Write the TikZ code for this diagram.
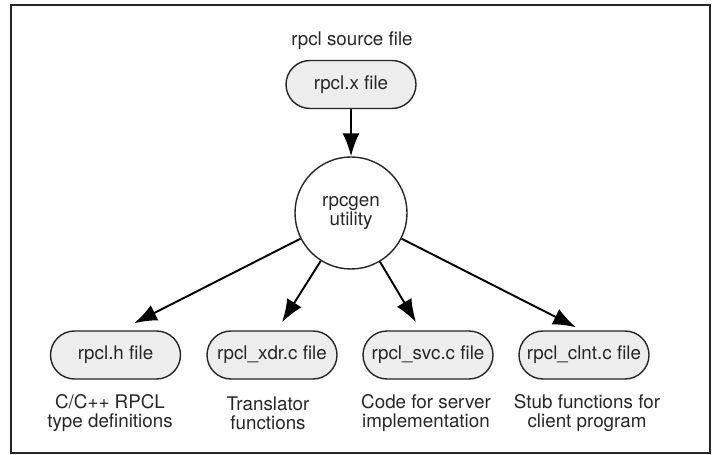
\documentclass[tikz,border=0pt]{standalone}
\usepackage{fontspec}
\setmainfont{TeX Gyre Heros}
\usetikzlibrary{arrows.meta,positioning,calc}

\tikzset{
	pillbox/.style={draw=black!85, line width=0.8pt, fill=gray!14, rounded corners=0.48cm,
		minimum width=2.6cm, minimum height=0.96cm, inner sep=0pt},
	genbox/.style={draw=black!85, line width=0.8pt, circle, minimum size=2.24cm, inner sep=0pt, align=center},
	description/.style={align=center, inner sep=0pt},
	flow/.style={line width=1.1pt, -{Latex[length=0.46cm,width=0.34cm]}}
}

\begin{document}
\begin{tikzpicture}[font=\fontsize{10.7}{10.9}\selectfont, text=black!85]
	\useasboundingbox (0,0) rectangle (14.3,9.1);
	\draw[line width=1.1pt, black!85] (0.22,9.0) rectangle (14.2,0.04);	% frame
	
	% source
	\node (src) at (7.04,8.28) {rpcl source file};
	\node[pillbox] (x) at (7.02,7.41) {rpcl.x file};
	\node[genbox] (gen) at (7.02,4.84) {rpcgen\\utility};
	
	% generated files
	\node[pillbox] (h) at (2.31,2.0) {rpcl.h file};
	\node[pillbox] (xdr) at (5.44,2.0) {rpcl\_xdr.c file};
	\node[pillbox] (svc) at (8.56,2.0) {rpcl\_svc.c file};
	\node[pillbox] (clnt) at (11.68,2.0) {rpcl\_clnt.c file};
	
	\node[description] (hd) at (2.2,0.84) {C/C++ RPCL\\type definitions};
	\node[description] (xdrd) at (5.36,0.84) {Translator\\functions};
	\node[description] (svcd) at (8.52,0.84) {Code for server\\implementation};
	\node[description] (clntd) at (11.74,0.84) {Stub functions for\\client program};
	
	% arrow ends
	\coordinate (hin) at ($(h.north)+(0.37,0.14)$);
	\coordinate (xdrin) at ($(xdr.north)+(0.2,0.16)$);
	\coordinate (svcin) at ($(svc.north)+(-0.24,0.16)$);
	\coordinate (clntin) at ($(clnt.north)+(-0.16,0.06)$);
	
	\draw[flow] (x) -- (gen);
	\draw[flow] (gen) -- (hin);
	\draw[flow] (gen) -- (xdrin);
	\draw[flow] (gen) -- (svcin);
	\draw[flow] (gen) -- (clntin);
\end{tikzpicture}
\end{document}
